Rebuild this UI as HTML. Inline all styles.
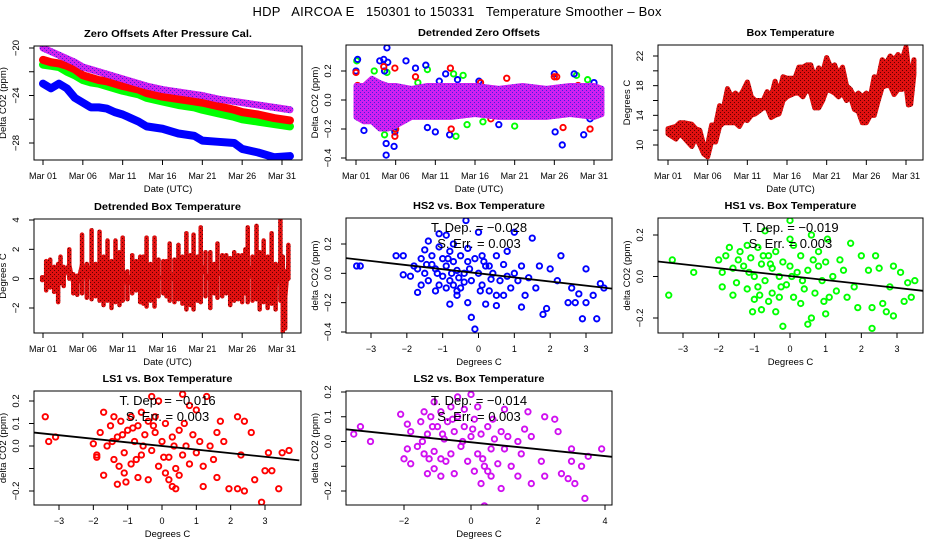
<!DOCTYPE html>
<html><head><meta charset="utf-8">
<style>
html,body{margin:0;padding:0;background:#fff;}
svg{display:block;font-family:"Liberation Sans",sans-serif;}
</style></head>
<body>
<svg id="chart" width="936" height="540" viewBox="0 0 936 540" xmlns="http://www.w3.org/2000/svg">
<defs>
<pattern id="rb" width="4" height="4" patternUnits="userSpaceOnUse"><rect width="4" height="4" fill="#e01010"/><rect width="1" height="1" fill="#600000"/><rect x="2" y="2" width="1" height="1" fill="#600000"/></pattern>
<pattern id="mb" width="4" height="4" patternUnits="userSpaceOnUse"><rect width="4" height="4" fill="#d020f0"/><rect width="1" height="1" fill="#4020e0"/><rect x="2" y="2" width="1" height="1" fill="#4020e0"/></pattern>
</defs>
<rect width="936" height="540" fill="#fff"/>
<text x="457" y="16" font-size="13" text-anchor="middle" textLength="409" xml:space="preserve">HDP   AIRCOA E   150301 to 150331   Temperature Smoother – Box</text>
<g id="plots"></g>
</svg>
<script>
// ---- Panel 1: zero offsets (day, ppm)
const p1Days=[1,2,3,4,5,6,7,8,9,10,11,13,14,16,18,20,21,23,25,26,28,30,32];
const p1Purple=[-20.0,-20.3,-20.6,-20.9,-21.2,-21.6,-21.8,-22.0,-22.2,-22.4,-22.6,-23.0,-23.2,-23.5,-23.7,-23.9,-24.0,-24.3,-24.5,-24.6,-24.8,-25.0,-25.2];
const p1Red=[-21.0,-21.2,-21.3,-21.5,-21.8,-22.3,-22.5,-22.7,-22.8,-23.0,-23.2,-23.5,-23.8,-24.1,-24.3,-24.5,-24.6,-24.9,-25.2,-25.4,-25.6,-25.9,-26.1];
const p1Green=[-21.4,-21.5,-21.6,-22.0,-22.3,-22.7,-22.9,-23.0,-23.2,-23.4,-23.6,-23.9,-24.2,-24.5,-24.8,-25.0,-25.2,-25.5,-25.8,-26.0,-26.2,-26.4,-26.6];
const p1Blue=[-23.0,-23.4,-23.0,-23.4,-24.2,-24.6,-25.0,-25.0,-25.1,-25.4,-25.6,-26.2,-26.6,-26.8,-27.2,-27.4,-27.8,-27.9,-28.0,-28.5,-28.8,-29.2,-29.1];
// ---- Panel 2: detrended zero offsets
const p2BandDays=[1,2,3,4,5,6,8,10,13,16,19,22,25,28,31,32];
const p2BandTop=[0.10,0.10,0.15,0.12,0.10,0.10,0.08,0.10,0.10,0.10,0.08,0.10,0.08,0.10,0.10,0.08];
const p2BandBot=[-0.12,-0.15,-0.15,-0.20,-0.20,-0.18,-0.12,-0.12,-0.12,-0.10,-0.12,-0.12,-0.12,-0.10,-0.12,-0.10];
const p2Blue=[[1.2,0.28],[1.0,0.2],[4,0.27],[4.5,0.28],[4.6,0.2],[4.9,0.36],[5,0.26],[5.9,-0.22],[5.8,-0.32],[4.8,-0.38],[4.8,-0.3],[2,-0.21],[7.3,0.27],[8.5,0.22],[9.8,0.24],[10,-0.19],[11,-0.22],[11.5,0.13],[12.3,0.18],[12.8,-0.24],[13.8,0.14],[16.5,0.13],[19,-0.17],[26,0.18],[26.1,-0.22],[27,-0.31],[28.5,0.18],[29.7,-0.24],[30.5,-0.13],[31,0.12]];
const p2Green=[[1.1,0.27],[3.3,0.2],[4.6,-0.24],[4.9,0.19],[5.8,-0.2],[8.8,0.12],[10,0.21],[13.3,0.18],[13.6,-0.25],[14.5,0.17],[15,-0.17],[17,-0.15],[21,-0.18],[28.8,0.17],[30.2,0.14]];
const p2Red=[[1,0.19],[1.2,0.1],[4.2,-0.18],[4.5,0.23],[5.9,0.22],[5.9,-0.25],[6,-0.2],[8.5,0.16],[12.9,0.22],[13,-0.2],[16.7,0.12],[18,-0.13],[20,0.15],[26,0.16],[26.3,0.16],[27.1,-0.19],[29,0.1],[30.5,-0.2],[31.4,0.08]];
// ---- Panel 3: box temperature (min/max envelope)
const p3Days=[1,2,2.5,3,4,4.5,5,5.5,6,6.5,7,7.5,8,8.5,9,9.5,10,10.5,11,11.5,12,13,13.5,14,14.5,15,15.5,16,17,17.5,18,18.5,19,19.5,20,20.5,21,21.5,22,22.5,23,23.5,24,24.5,25,25.5,26,26.5,27,27.5,28,28.5,29,29.5,30,30.5,31,31.3,31.6,32];
const p3Max=[12.2,12.5,13,13,12.8,12.2,12,10,10,12.7,12.7,15.3,15,17.6,16.5,17,16.5,17.4,18.5,16.5,16,16,17.2,16.5,18.6,17,19.2,19,19,20.5,20.5,20.8,20.8,19,20.4,19.8,21.8,20.5,20.8,19.5,20.5,18,17.5,16.5,17,16.5,17,16.5,19.2,19,21.5,21,22,21.5,22.2,21.5,23.2,20.5,19,21.5];
const p3Min=[11.5,10.8,11.5,11,9.8,11,10,8.8,8.4,10.5,10.4,12.5,13,13,13,13,12.5,13.5,13.3,14,14.2,15,15,13.7,14,14.2,16,16.5,17,17,16.5,17.5,17,15,15,16,17.5,17.3,17,16.5,17,16,16.5,14.8,14.5,13,13,14,14,16,17.8,18,18,16.8,17.5,17.5,18,15.4,15.5,19.5];
// ---- Panel 4: detrended box temperature
const p4Days=[0.9,1.4,1.9,2.4,2.9,3.2,3.6,4.3,4.8,5.3,5.9,6.5,7.1,7.6,8.1,8.6,9.1,9.6,10.1,10.6,11.0,11.6,12.2,12.7,13.2,13.6,14.0,14.5,15.0,15.5,16.1,16.5,16.9,17.5,18.0,18.5,19.0,19.5,19.9,20.4,20.8,21.4,22.0,22.5,22.9,23.5,24.0,24.5,25.0,25.5,26.0,26.4,26.7,27.3,27.8,28.2,28.7,29.2,29.7,30.2,30.8,31.1,31.4,31.8];
const p4Max=[0.1,1.2,1.3,0.8,1.0,1.5,0.8,2.0,0.3,0.2,3.0,1.0,3.3,1.0,3.2,1.5,2.6,1.2,2.6,1.8,2.8,0.5,1.6,1.2,1.5,1.5,2.8,1.0,2.8,1.3,1.2,1.2,2.4,1.3,2.3,1.5,3.1,1.6,3.0,1.5,3.5,1.8,1.8,1.0,2.4,1.6,1.6,1.4,1.8,1.6,1.6,2.0,3.5,1.5,3.6,1.8,2.6,1.5,3.1,1.0,4.0,1.5,0.5,2.3];
const p4Min=[-0.1,-0.8,-0.6,-0.9,-1.6,-0.3,-0.5,0.0,-1.0,-1.1,-1.0,-1.3,-1.4,-1.2,-1.5,-1.8,-1.5,-2.0,-1.6,-1.8,-1.5,-1.4,-1.0,-0.8,-1.6,-1.7,-1.9,-1.5,-1.9,-1.2,-1.0,-1.2,-1.5,-1.6,-1.4,-1.7,-2.1,-1.8,-2.1,-1.5,-1.6,-1.2,-2.0,-1.0,-1.3,-1.2,-1.0,-1.8,-1.5,-1.4,-1.6,-1.0,-1.6,-1.5,-1.4,-2.1,-1.6,-2.0,-1.7,-2.1,-1.5,-3.6,-3.4,0.0];
// ---- Scatter panels
const hs2Pts=[[-3.4,0.05],[-3.3,0.05],[-2.3,0.12],[-2.1,0.12],[-2.1,-0.01],[-1.7,-0.13],[-1.4,0.22],[-1.1,0.27],[-0.9,0.26],[-0.8,-0.21],[-0.7,-0.08],[-0.6,-0.15],[-0.35,0.36],[-0.3,-0.2],[-0.2,-0.3],[-0.1,-0.38],[0,0.28],[0.2,-0.21],[0.5,-0.22],[1.0,0.28],[1.2,-0.23],[1.5,0.24],[1.8,-0.28],[1.9,-0.24],[2.3,0.12],[2.5,-0.2],[2.7,-0.2],[2.9,-0.31],[3.0,0.03],[3.0,-0.2],[3.3,-0.31],[3.4,-0.07],[3.5,-0.1],[3.2,-0.15],[2.0,0.03],[2.2,-0.05],[1.6,-0.1],[1.3,-0.15],[0.8,0.15],[0.5,0.12],[0.3,0.05],[-1.8,0.05],[-1.6,0.1],[-1.5,0.0],[-1.4,-0.05],[-1.3,0.12],[-1.2,0.03],[-1.1,-0.08],[-1.0,0.1],[-1.0,-0.02],[-0.9,0.05],[-0.8,0.15],[-0.8,-0.05],[-0.7,0.08],[-0.6,0.02],[-0.5,-0.1],[-0.5,0.12],[-0.4,0.0],[-0.3,0.08],[-0.2,-0.05],[-0.1,0.1],[0.0,0.0],[0.1,-0.08],[0.2,0.05],[0.3,-0.12],[0.4,0.0],[0.6,-0.05],[0.7,0.06],[0.9,-0.1],[1.0,0.0],[1.1,-0.05],[-1.9,-0.02],[-1.7,0.03],[-1.2,-0.12],[-0.6,-0.12],[0.5,-0.15],[0.7,-0.15],[1.4,-0.03],[1.7,0.05],[-1.3,0.06],[-0.9,-0.1],[-1.5,0.16],[-0.3,0.17],[0.1,0.12],[-1.1,0.18],[-0.7,0.2],[1.2,0.05],[0.8,-0.02],[-0.4,-0.06],[2.6,-0.1],[2.8,-0.14],[-1.45,0.06],[-1.15,0.0],[-0.85,0.1],[-0.55,-0.03],[-0.25,0.03],[0.05,-0.12],[0.35,-0.04],[-1.6,-0.08],[-0.75,0.0],[0.15,0.08]];
const hs1Pts=[[-3.4,-0.09],[-3.3,0.08],[-2.7,0.02],[-2.0,0.08],[-1.9,-0.05],[-1.6,-0.09],[-1.7,0.14],[-1.05,-0.17],[-0.8,-0.16],[-0.7,0.22],[-0.4,-0.17],[-0.2,-0.24],[0.0,0.27],[0.0,0.18],[0.5,-0.23],[0.6,-0.2],[0.6,0.2],[1.0,-0.18],[1.05,0.18],[1.7,0.16],[1.9,-0.15],[2.0,0.1],[2.2,0.03],[2.3,-0.25],[2.4,0.1],[2.3,-0.15],[2.5,0.04],[2.6,-0.13],[2.7,-0.17],[2.9,-0.19],[2.9,0.05],[3.1,0.02],[3.2,-0.12],[3.3,-0.03],[3.4,-0.1],[3.5,-0.02],[2.8,-0.05],[-1.8,0.1],[-1.6,0.04],[-1.5,-0.03],[-1.4,0.12],[-1.3,0.05],[-1.2,-0.06],[-1.1,0.09],[-1.0,0.0],[-0.9,0.14],[-0.9,-0.05],[-0.8,0.06],[-0.7,-0.02],[-0.6,0.1],[-0.5,-0.08],[-0.5,0.04],[-0.4,0.12],[-0.3,0.0],[-0.2,0.07],[-0.1,-0.04],[0.0,0.05],[0.1,-0.1],[0.2,0.02],[0.3,0.1],[0.4,-0.06],[0.5,0.03],[0.7,-0.08],[0.8,0.05],[0.9,-0.02],[1.1,-0.1],[1.2,0.0],[1.3,-0.07],[1.5,0.03],[1.6,-0.1],[-1.9,0.02],[-1.2,0.15],[-0.6,-0.12],[0.3,-0.13],[0.8,0.12],[1.4,0.08],[-1.0,-0.11],[0.1,0.15],[-0.3,-0.1],[1.8,-0.05],[1.0,0.07],[-1.45,0.08],[-1.15,0.02],[-0.85,-0.09],[-0.55,0.06],[-0.25,-0.05],[0.05,0.0],[0.35,-0.02],[0.65,0.08],[-0.75,0.1],[0.95,-0.12]];
const ls1Pts=[[-3.4,0.13],[-3.3,0.02],[-3.1,0.04],[-2.0,0.01],[-1.9,-0.05],[-1.7,0.15],[-1.7,-0.13],[-1.3,-0.17],[-1.05,-0.16],[-0.7,-0.14],[-0.4,-0.15],[-0.3,0.22],[-0.1,0.2],[0.2,-0.15],[0.3,-0.18],[0.4,-0.19],[0.6,0.23],[0.8,0.18],[1.0,0.16],[1.2,-0.18],[1.3,0.22],[1.6,-0.14],[1.7,0.11],[1.95,-0.19],[2.2,-0.19],[2.2,0.13],[2.4,-0.2],[2.4,0.11],[2.6,0.06],[2.7,-0.15],[2.9,-0.25],[3.0,-0.11],[3.1,-0.03],[3.4,-0.19],[3.5,-0.03],[3.7,-0.02],[3.2,-0.11],[2.3,-0.04],[-1.8,0.06],[-1.6,0.0],[-1.5,0.09],[-1.4,-0.06],[-1.3,0.04],[-1.2,0.11],[-1.1,-0.03],[-1.0,0.07],[-0.9,0.13],[-0.9,-0.08],[-0.8,0.02],[-0.7,0.09],[-0.6,-0.04],[-0.5,0.05],[-0.4,0.11],[-0.3,-0.02],[-0.2,0.06],[-0.1,-0.09],[0.0,0.02],[0.1,0.1],[0.2,-0.05],[0.3,0.04],[0.4,-0.1],[0.5,0.07],[0.6,-0.04],[0.7,0.0],[0.8,-0.08],[0.9,0.05],[1.0,-0.03],[1.1,0.02],[1.2,-0.09],[1.4,0.0],[1.5,-0.06],[-1.9,-0.04],[-1.1,-0.12],[-0.6,0.15],[0.1,-0.12],[0.5,-0.13],[1.8,0.02],[-1.4,0.13],[-0.2,0.13],[1.6,0.06],[-1.45,0.02],[-1.15,0.05],[-0.85,0.08],[-0.55,0.0],[-0.25,0.09],[0.05,-0.05],[0.35,0.0],[-0.75,-0.06],[0.65,0.1],[-1.25,-0.09]];
const ls2Pts=[[-3.5,0.03],[-3.3,0.06],[-3.0,0.0],[-2.1,0.11],[-2.0,-0.07],[-1.9,0.07],[-1.8,-0.09],[-1.3,-0.13],[-1.1,0.16],[-0.9,-0.14],[-0.5,-0.13],[-0.4,0.18],[0.0,0.19],[0.2,0.14],[0.3,-0.17],[0.4,-0.26],[0.6,-0.14],[0.9,-0.19],[1.0,0.13],[1.4,-0.14],[1.7,0.12],[1.8,-0.17],[2.1,-0.08],[2.2,0.1],[2.2,-0.14],[2.5,0.09],[2.6,0.04],[2.7,-0.13],[2.9,-0.15],[3.0,-0.03],[3.0,-0.08],[3.1,-0.17],[3.3,-0.1],[3.4,-0.23],[3.5,-0.06],[3.9,-0.03],[-1.8,0.04],[-1.6,-0.02],[-1.5,0.08],[-1.4,-0.05],[-1.3,0.03],[-1.2,0.1],[-1.1,-0.04],[-1.0,0.06],[-0.9,0.12],[-0.9,-0.07],[-0.8,0.01],[-0.7,0.08],[-0.6,-0.05],[-0.5,0.04],[-0.4,0.1],[-0.3,-0.02],[-0.2,0.06],[-0.1,-0.08],[0.0,0.02],[0.1,0.09],[0.2,-0.05],[0.3,0.03],[0.4,-0.1],[0.5,0.06],[0.6,-0.03],[0.7,0.01],[0.8,-0.09],[0.9,0.04],[1.0,-0.03],[1.1,0.02],[1.2,-0.1],[1.4,0.0],[1.5,-0.05],[-1.9,-0.03],[-1.1,-0.11],[-0.6,0.14],[0.1,-0.12],[0.5,-0.12],[1.8,0.02],[-1.4,0.12],[-0.2,0.13],[1.6,0.05],[-1.45,0.0],[-1.15,0.06],[-0.85,0.03],[-0.55,0.09],[-0.25,0.0],[0.05,0.05],[0.35,-0.07],[-0.75,-0.08],[0.65,0.09],[-1.25,-0.07]];
const fitSlope=[-0.028,-0.019,-0.016,-0.014];
const fitIntercept=[0.0,0.002,0.0,-0.003];
const fitTDep=["−0.028","−0.019","−0.016","−0.014"];
const fitSErr=["0.003","0.003","0.003","0.003"];
const dateTicks=[1,6,11,16,21,26,31];
const dateLabels=["Mar 01","Mar 06","Mar 11","Mar 16","Mar 21","Mar 26","Mar 31"];

const NS="http://www.w3.org/2000/svg";
const root=document.getElementById('plots');
function el(tag,attrs,parent){const e=document.createElementNS(NS,tag);for(const k in attrs)e.setAttribute(k,attrs[k]);(parent||root).appendChild(e);return e;}
function lin(d0,d1,p0,p1){return v=>p0+(v-d0)*(p1-p0)/(d1-d0);}

function panel(o){
  const g=el('g',{});
  
  
  const [l,t,r,b]=o.box;
  const X=lin(o.xd[0],o.xd[1],o.xp[0],o.xp[1]);
  const Y=lin(o.yd[0],o.yd[1],o.yp[0],o.yp[1]);
  const tt=el('text',{x:(l+r)/2,y:t-9,'font-size':10.5,'font-weight':'bold','text-anchor':'middle',textLength:o.titleLen,lengthAdjust:'spacingAndGlyphs'},g);
  tt.textContent=o.title;
  
  
  const xa=el('g',{},g);
  
  
  el('line',{x1:X(o.xt[0]),x2:X(o.xt[o.xt.length-1]),y1:b,y2:b,stroke:'#000'},xa);
  o.xt.forEach((v,i)=>{
    el('line',{x1:X(v),x2:X(v),y1:b,y2:b+5,stroke:'#000'},xa);
    const tx=el('text',{x:X(v),y:b+19,'font-size':9,'text-anchor':'middle'},xa);
    tx.textContent=o.xl[i];
    
    
  });
  const xt=el('text',{x:(l+r)/2,y:b+32,'font-size':9.5,'text-anchor':'middle'},g);
  xt.textContent=o.xtitle;
  
  
  const ya=el('g',{},g);
  
  
  el('line',{x1:l,x2:l,y1:Y(o.yt[0]),y2:Y(o.yt[o.yt.length-1]),stroke:'#000'},ya);
  o.yt.forEach((v,i)=>{
    el('line',{x1:l-5,x2:l,y1:Y(v),y2:Y(v),stroke:'#000'},ya);
    if(o.yl[i]!==''){
      const cx=l-15,cy=Y(v);
      const ty=el('text',{x:cx,y:cy,'font-size':9.5,'text-anchor':'middle',transform:`rotate(-90 ${cx} ${cy})`},ya);
      ty.textContent=o.yl[i];
      
      
    }
  });
  const yx=l-28,yy=(t+b)/2;
  const yt=el('text',{x:yx,y:yy,'font-size':9.5,'text-anchor':'middle',transform:`rotate(-90 ${yx} ${yy})`},g);
  yt.textContent=o.ytitle;
  
  
  const clipId='c'+o.name;
  const cp=el('clipPath',{id:clipId},g);el('rect',{x:l,y:t,width:r-l,height:b-t},cp);
  const plot=el('g',{'clip-path':`url(#${clipId})`},g);
  
  
  o.draw(plot,X,Y);
  el('rect',{x:l,y:t,width:r-l,height:b-t,fill:'none',stroke:'#000'},g);
  return {g,X,Y};
}
function line(p,xs,ys,X,Y,stroke,w,name){
  const pl=el('polyline',{points:xs.map((d,i)=>X(d)+','+Y(ys[i])).join(' '),fill:'none',stroke,'stroke-width':w,'stroke-linejoin':'round','stroke-linecap':'round'},p);
  
  
}
function band(p,xs,top,bot,X,Y,fill,name){
  const pts=xs.map((d,i)=>X(d)+','+Y(top[i])).concat(xs.slice().reverse().map((d,j)=>X(d)+','+Y(bot[xs.length-1-j])));
  const pg=el('polygon',{points:pts.join(' '),fill,stroke:fill,'stroke-width':5,'stroke-linejoin':'round'},p);
  
  
}
function pts(p,arr,X,Y,color,name){
  arr.forEach(([x,y])=>{
    const c=el('circle',{cx:X(x),cy:Y(y),r:2.7,fill:'none',stroke:color,'stroke-width':1.9},p);
    
    
  });
}
panel({name:'zero-offsets-panel',box:[34,46,302,160],xd:[1,31],xp:[43,282],yd:[-20,-28],yp:[48,143],
  title:'Zero Offsets After Pressure Cal.',titleLen:168,xt:dateTicks,xl:dateLabels,xtitle:'Date (UTC)',
  yt:[-20,-22,-24,-26,-28],yl:['−20','','−24','','−28'],ytitle:'Delta CO2 (ppm)',
  draw:(p,X,Y)=>{line(p,p1Days,p1Blue,X,Y,'#0000ff',8,'series-hs2');line(p,p1Days,p1Green,X,Y,'#00ff00',8,'series-hs1');line(p,p1Days,p1Red,X,Y,'#ff0000',8,'series-ls1');line(p,p1Days,p1Purple,X,Y,'url(#mb)',7,'series-ls2');}});
panel({name:'detrended-zero-panel',box:[346,45,612,160],xd:[1,31],xp:[356,594],yd:[0.2,-0.4],yp:[71,158],
  title:'Detrended Zero Offsets',titleLen:122,xt:dateTicks,xl:dateLabels,xtitle:'Date (UTC)',
  yt:[0.2,0,-0.2,-0.4],yl:['0.2','0.0','−0.2','−0.4'],ytitle:'Delta CO2 (ppm)',
  draw:(p,X,Y)=>{pts(p,p2Green,X,Y,'#00ff00','hs1-point');pts(p,p2Blue,X,Y,'#0000ff','hs2-point');pts(p,p2Red,X,Y,'#ff0000','ls1-point');band(p,p2BandDays,p2BandTop,p2BandBot,X,Y,'url(#mb)','ls2-band');}});
panel({name:'box-temperature-panel',box:[658,45,923,160],xd:[1,31],xp:[668,906],yd:[22,10],yp:[56,145],
  title:'Box Temperature',titleLen:88,xt:dateTicks,xl:dateLabels,xtitle:'Date (UTC)',
  yt:[10,12,14,16,18,20,22],yl:['10','','14','','18','','22'],ytitle:'Degrees C',
  draw:(p,X,Y)=>{band(p,p3Days,p3Max,p3Min,X,Y,'url(#rb)','temperature-band');}});
panel({name:'detrended-box-temp-panel',box:[34,219,301,333],xd:[1,31],xp:[43,282],yd:[4,-2],yp:[220,308],
  title:'Detrended Box Temperature',titleLen:147,xt:dateTicks,xl:dateLabels,xtitle:'Date (UTC)',
  yt:[4,2,0,-2],yl:['4','2','0','−2'],ytitle:'Degrees C',
  draw:(p,X,Y)=>{
    p4Days.forEach((d,i)=>{const s=el('line',{x1:X(d),x2:X(d),y1:Y(p4Max[i]),y2:Y(p4Min[i]),stroke:'url(#rb)','stroke-width':4.5,'stroke-linecap':'round'},p);
      
      });
    line(p,p4Days,p4Max.map((v,i)=>(v+p4Min[i])/2),X,Y,'url(#rb)',4,'temp-mid');
  }});
const sc=[
 {name:'hs2-scatter-panel',box:[346,218,612,333],xd:[-3,3],xp:[371,586],yd:[0.2,-0.4],yp:[244,332],title:'HS2 vs. Box Temperature',titleLen:132,
  xt:[-3,-2,-1,0,1,2,3],xl:['−3','−2','−1','0','1','2','3'],yt:[0.2,0,-0.2,-0.4],yl:['0.2','0.0','−0.2','−0.4'],data:hs2Pts,color:'#0000ff',xr:[-3.8,3.8]},
 {name:'hs1-scatter-panel',box:[658,218,923,333],xd:[-3,3],xp:[683,897],yd:[0.2,-0.2],yp:[235,318],title:'HS1 vs. Box Temperature',titleLen:132,
  xt:[-3,-2,-1,0,1,2,3],xl:['−3','−2','−1','0','1','2','3'],yt:[0.2,0,-0.2],yl:['0.2','0.0','−0.2'],data:hs1Pts,color:'#00ff00',xr:[-3.8,3.8]},
 {name:'ls1-scatter-panel',box:[34,391,301,505],xd:[-3,3],xp:[59,265],yd:[0.2,-0.2],yp:[401,491],title:'LS1 vs. Box Temperature',titleLen:130,
  xt:[-3,-2,-1,0,1,2,3],xl:['−3','−2','−1','0','1','2','3'],yt:[0.2,0.1,0,-0.1,-0.2],yl:['0.2','0.1','0.0','','−0.2'],data:ls1Pts,color:'#ff0000',xr:[-3.8,4.0]},
 {name:'ls2-scatter-panel',box:[346,391,612,505],xd:[-2,4],xp:[404,605],yd:[0.2,-0.2],yp:[392,491],title:'LS2 vs. Box Temperature',titleLen:131,
  xt:[-2,0,2,4],xl:['−2','0','2','4'],yt:[0.2,0.1,0,-0.1,-0.2],yl:['0.2','0.1','0.0','','−0.2'],data:ls2Pts,color:'#d010f0',xr:[-3.9,4.3]}
];
sc.forEach((c,k)=>{
  const r=panel({name:c.name,box:c.box,xd:c.xd,xp:c.xp,yd:c.yd,yp:c.yp,title:c.title,titleLen:c.titleLen,xt:c.xt,xl:c.xl,xtitle:'Degrees C',
    yt:c.yt,yl:c.yl,ytitle:'delta CO2 (ppm)',
    draw:(p,X,Y)=>{pts(p,c.data,X,Y,c.color,'scatter-point');
      const f=el('line',{x1:X(c.xr[0]),y1:Y(fitIntercept[k]+fitSlope[k]*c.xr[0]),x2:X(c.xr[1]),y2:Y(fitIntercept[k]+fitSlope[k]*c.xr[1]),stroke:'#000','stroke-width':1.8},p);
      
      }});
  const cx=(c.box[0]+c.box[2])/2, t=c.box[1];
  const a=el('text',{x:cx,y:t+14,'font-size':13,'text-anchor':'middle'},r.g);
  a.textContent='T. Dep. =  '+fitTDep[k];
  
  
  const s=el('text',{x:cx,y:t+30,'font-size':13,'text-anchor':'middle'},r.g);
  s.textContent='S. Err. = '+fitSErr[k];
  
  
});
</script>
</body></html>
